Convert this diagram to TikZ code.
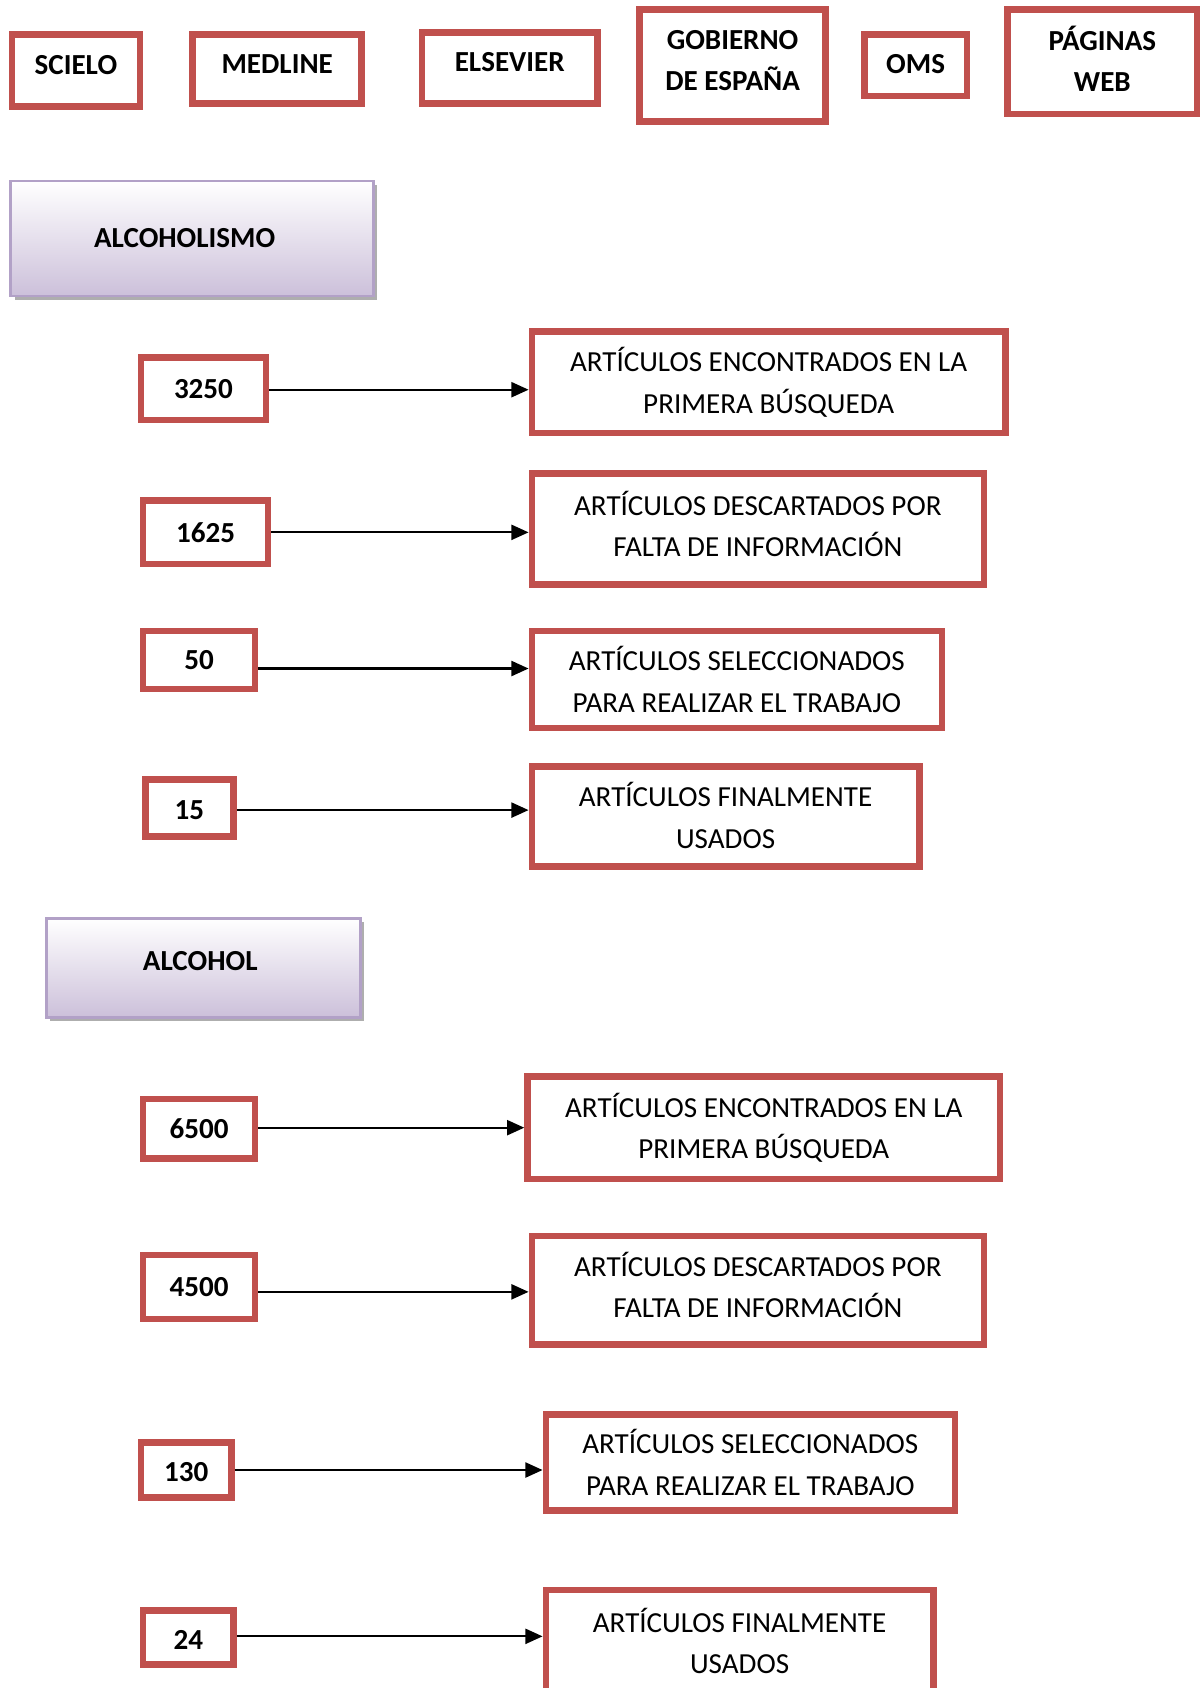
\documentclass[tikz,border=0pt]{standalone}
\usepackage{fontspec}
\setmainfont{Carlito}
\usetikzlibrary{arrows.meta,shadows}
\definecolor{boxred}{RGB}{192,80,77}
\definecolor{lavline}{RGB}{178,161,199}
\definecolor{lavfill}{RGB}{204,192,218}
\tikzset{
  rbox/.style={draw=boxred, line width=6pt, fill=white, inner sep=0pt, align=center,
    font=\fontsize{27}{38.5}\selectfont},
  hbox/.style={rbox, font=\fontsize{27}{38}\selectfont\bfseries},
  nbox/.style={rbox, font=\fontsize{27}{38}\selectfont\bfseries},
  tbox/.style={rbox},
  topic/.style={draw=lavline, line width=2.5pt, top color=white, bottom color=lavfill,
    inner sep=0pt, font=\fontsize{27}{38}\selectfont\bfseries,
    drop shadow={shadow xshift=3.5pt, shadow yshift=-3.5pt, fill=gray!90, opacity=0.7}},
  conn/.style={line width=2pt, -{Triangle[length=16pt,width=14pt]}}
}
\begin{document}
\begin{tikzpicture}[x=1pt,y=-1pt]
\useasboundingbox (0,0) rectangle (1117,1568);
% header sources
\node[hbox, minimum width=119pt, minimum height=67pt, text depth=11pt] (scielo) at (70.5,65.5) {SCIELO};
\node[hbox, minimum width=157pt, minimum height=64pt, text depth=9pt] (medline) at (257.5,64) {MEDLINE};
\node[hbox, minimum width=163pt, minimum height=66pt, text depth=10pt] (elsevier) at (473.5,63) {ELSEVIER};
\node[hbox, minimum width=173pt, minimum height=104pt, text depth=9pt] (gob) at (680.5,61) {GOBIERNO\\DE ESPAÑA};
\node[hbox, minimum width=95pt, minimum height=57pt, text depth=2pt] (oms) at (850.5,60.5) {OMS};
\node[hbox, minimum width=176pt, minimum height=97pt, text depth=6pt] (web) at (1024,57.5) {PÁGINAS\\WEB};
% topic boxes
\node[topic, minimum width=337pt, minimum height=107pt] (alcoholismo) at (178.5,221.5) {ALCOHOLISMO\kern14pt};
\node[topic, minimum width=292pt, minimum height=92pt, text depth=12pt] (alcohol) at (189,899) {ALCOHOL\kern6pt};
% section 1
\node[nbox, minimum width=116pt, minimum height=58pt] (n1) at (189,361) {3250};
\node[tbox, minimum width=440pt, minimum height=94pt] (t1) at (714,355) {ARTÍCULOS ENCONTRADOS EN LA\\PRIMERA BÚSQUEDA};
\node[nbox, minimum width=116pt, minimum height=59pt] (n2) at (191,494.5) {1625};
\node[tbox, minimum width=420pt, minimum height=103pt, text depth=10pt] (t2) at (704,491.5) {ARTÍCULOS DESCARTADOS POR\\FALTA DE INFORMACIÓN};
\node[nbox, minimum width=104pt, minimum height=54pt] (n3) at (185,613) {50};
\node[tbox, minimum width=381pt, minimum height=90pt] (t3) at (684.5,631) {ARTÍCULOS SELECCIONADOS\\PARA REALIZAR EL TRABAJO};
\node[nbox, minimum width=82pt, minimum height=53pt, text height=22pt] (n4) at (176,750.5) {15};
\node[tbox, minimum width=360pt, minimum height=93pt, text depth=2pt] (t4) at (674,758.5) {ARTÍCULOS FINALMENTE\\USADOS};
% section 2
\node[nbox, minimum width=104pt, minimum height=55pt] (n5) at (185,1048.5) {6500};
\node[tbox, minimum width=439pt, minimum height=95pt] (t5) at (709.5,1047.5) {ARTÍCULOS ENCONTRADOS EN LA\\PRIMERA BÚSQUEDA};
\node[nbox, minimum width=104pt, minimum height=59pt] (n6) at (185,1195.5) {4500};
\node[tbox, minimum width=420pt, minimum height=101pt, text depth=10pt] (t6) at (704,1198.5) {ARTÍCULOS DESCARTADOS POR\\FALTA DE INFORMACIÓN};
\node[nbox, minimum width=84pt, minimum height=51pt, text height=21pt] (n7) at (173,1365.5) {130};
\node[tbox, minimum width=380pt, minimum height=89pt] (t7) at (697,1358.5) {ARTÍCULOS SELECCIONADOS\\PARA REALIZAR EL TRABAJO};
\node[nbox, minimum width=84pt, minimum height=50pt, text height=22pt] (n8) at (175,1521) {24};
\node[tbox, minimum width=360pt, minimum height=95pt] (t8) at (687,1524.5) {ARTÍCULOS FINALMENTE\\USADOS};
% connectors
\draw[conn] ([yshift=-1pt]n1.east) -- ([yshift=-1pt]n1.east -| t1.west);
\draw[conn] (n2.east) -- (n2.east -| t2.west);
\draw[conn] ([yshift=-8pt]n3.east) -- ([yshift=-8pt]n3.east -| t3.west);
\draw[conn] ([yshift=-2pt]n4.east) -- ([yshift=-2pt]n4.east -| t4.west);
\draw[conn] ([yshift=1pt]n5.east) -- ([yshift=1pt]n5.east -| t5.west);
\draw[conn] ([yshift=-4.5pt]n6.east) -- ([yshift=-4.5pt]n6.east -| t6.west);
\draw[conn] (n7.east) -- (n7.east -| t7.west);
\draw[conn] ([yshift=1pt]n8.east) -- ([yshift=1pt]n8.east -| t8.west);
\end{tikzpicture}
\end{document}
